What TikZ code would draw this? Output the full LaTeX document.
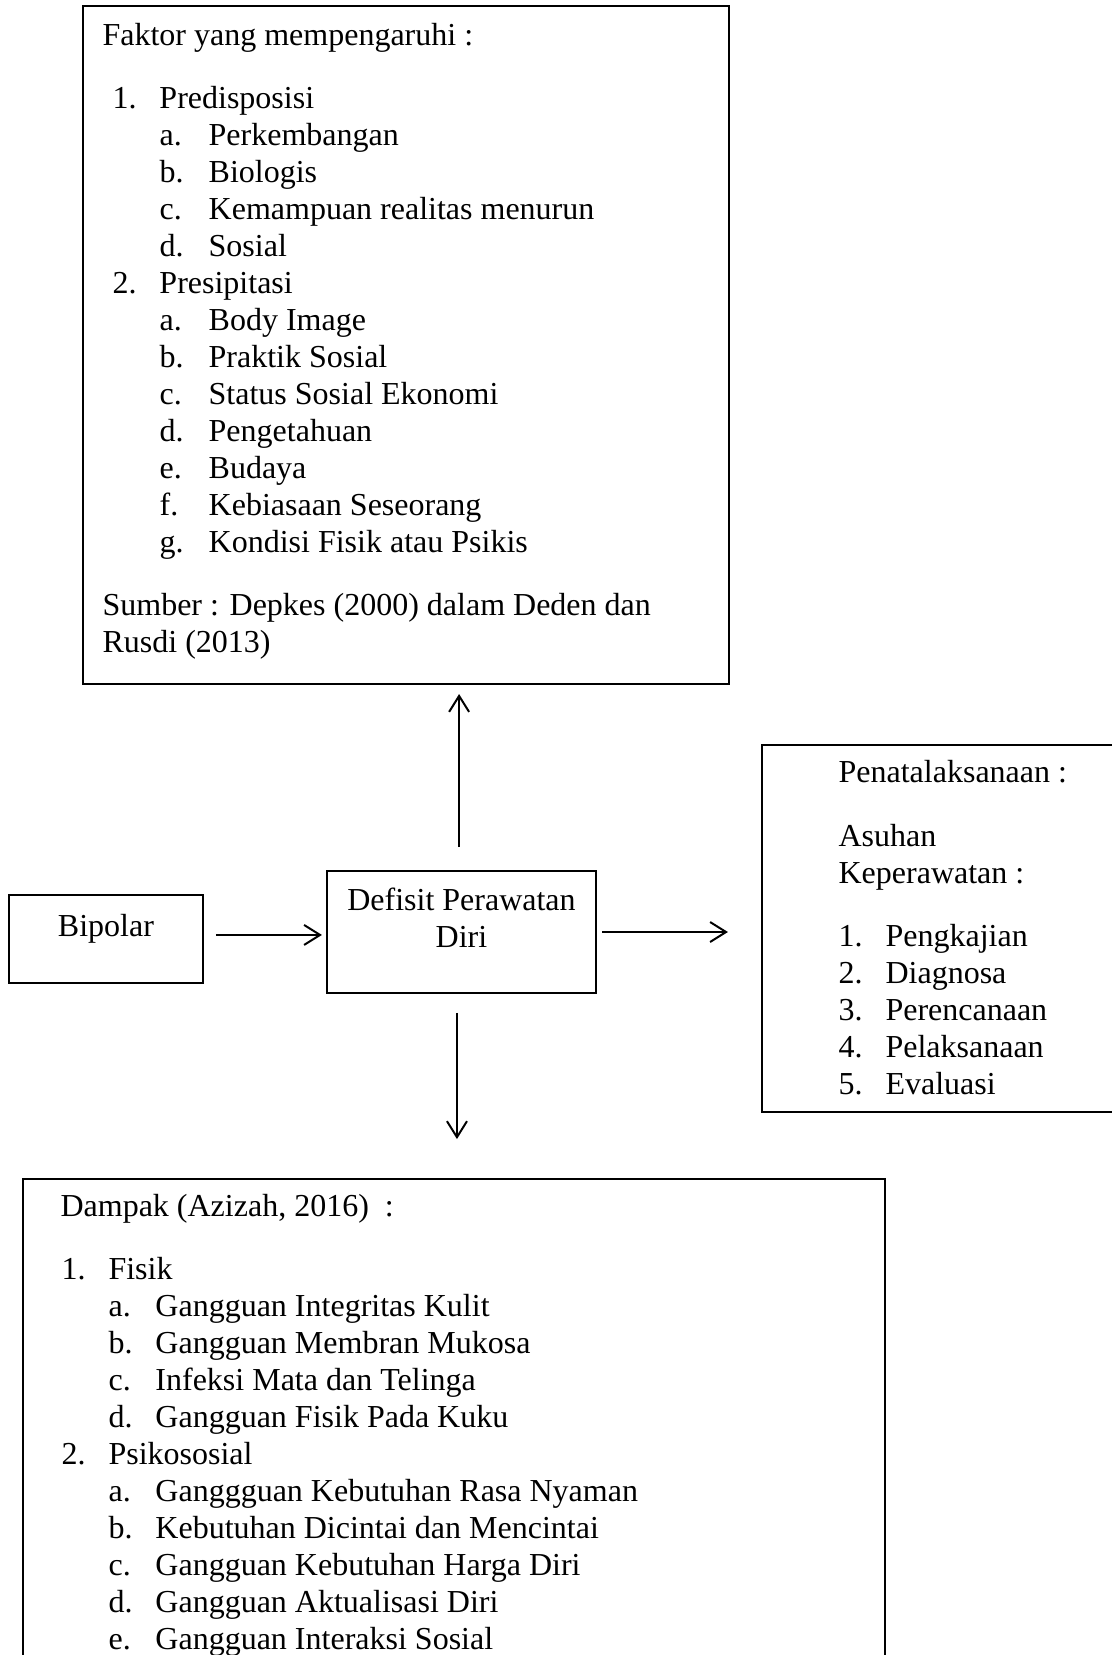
\documentclass[tikz,border=0pt]{standalone}
\usepackage{fontspec}
\setmainfont{Liberation Serif}
\usetikzlibrary{positioning, arrows.meta}

\newcommand{\fitem}[3][17.6pt]{\hspace*{#2}\makebox[#1][l]{#3}}

\begin{document}
\begin{tikzpicture}[x=0.375pt, y=-0.375pt,
    box/.style={draw, line width=0.75pt, inner sep=0pt},
    txt/.style={inner sep=0pt, font=\fontsize{12pt}{13.875pt}\selectfont},
    arr/.style={line width=0.75pt, -{Straight Barb[length=6pt, width=7.5pt]}}]
  \useasboundingbox (0,0) rectangle (1112,1655);

  % boxes
  \node[box, minimum width=100.9pt, minimum height=45.75pt] (defisit) at (461.5,932) {};
  \node[box, minimum width=72.75pt, minimum height=33pt, left=45.75pt of defisit, yshift=-2.6pt] (bipolar) {};
  \node[box, minimum width=131.6pt, minimum height=137.6pt, right=61.5pt of defisit, yshift=1.3pt] (pen) {};
  \node[box, minimum width=242.25pt, minimum height=254.25pt, above=69.4pt of defisit, xshift=-20.8pt] (faktor) {};
  \node[box, minimum width=323.25pt, minimum height=225pt, below=69pt of defisit, xshift=-2.8pt] (dampak) {};

  % texts (a \strut on the first line fixes where the top baseline sits)
  \node[txt, anchor=base, yshift=-16.1pt] (bipolartxt) at (bipolar.north) {Bipolar};
  \node[txt, align=center, anchor=north, yshift=-5.29pt] (defisittxt) at (defisit.north) {\strut Defisit Perawatan\\Diri};
  \node[txt, align=left, anchor=north west, xshift=7.5pt, yshift=-5.29pt] (faktortxt) at (faktor.north west) {%
    \strut Faktor yang mempengaruhi :\\[9.75pt]
    \fitem{3.75pt}{1.}Predisposisi\\
    \fitem[18.4pt]{21.4pt}{a.}Perkembangan\\
    \fitem[18.4pt]{21.4pt}{b.}Biologis\\
    \fitem[18.4pt]{21.4pt}{c.}Kemampuan realitas menurun\\
    \fitem[18.4pt]{21.4pt}{d.}Sosial\\
    \fitem{3.75pt}{2.}Presipitasi\\
    \fitem[18.4pt]{21.4pt}{a.}Body Image\\
    \fitem[18.4pt]{21.4pt}{b.}Praktik Sosial\\
    \fitem[18.4pt]{21.4pt}{c.}Status Sosial Ekonomi\\
    \fitem[18.4pt]{21.4pt}{d.}Pengetahuan\\
    \fitem[18.4pt]{21.4pt}{e.}Budaya\\
    \fitem[18.4pt]{21.4pt}{f.}Kebiasaan Seseorang\\
    \fitem[18.4pt]{21.4pt}{g.}Kondisi Fisik atau Psikis\\[9.75pt]
    Sumber : Depkes (2000) dalam Deden dan\\
    Rusdi (2013)};
  \node[txt, align=left, anchor=north west, xshift=28.9pt, yshift=-4.54pt] (pentxt) at (pen.north west) {%
    \strut Penatalaksanaan :\\[10pt]
    Asuhan\\
    Keperawatan :\\[10pt]
    \fitem{0pt}{1.}Pengkajian\\
    \fitem{0pt}{2.}Diagnosa\\
    \fitem{0pt}{3.}Perencanaan\\
    \fitem{0pt}{4.}Pelaksanaan\\
    \fitem{0pt}{5.}Evaluasi};
  \node[txt, align=left, anchor=north west, xshift=14.25pt, yshift=-4.54pt] (dampaktxt) at (dampak.north west) {%
    \strut Dampak (Azizah, 2016)~~:\\[9.75pt]
    \fitem{0.4pt}{1.}Fisik\\
    \fitem{18pt}{a.}Gangguan Integritas Kulit\\
    \fitem{18pt}{b.}Gangguan Membran Mukosa\\
    \fitem{18pt}{c.}Infeksi Mata dan Telinga\\
    \fitem{18pt}{d.}Gangguan Fisik Pada Kuku\\
    \fitem{0.4pt}{2.}Psikososial\\
    \fitem{18pt}{a.}Ganggguan Kebutuhan Rasa Nyaman\\
    \fitem{18pt}{b.}Kebutuhan Dicintai dan Mencintai\\
    \fitem{18pt}{c.}Gangguan Kebutuhan Harga Diri\\
    \fitem{18pt}{d.}Gangguan Aktualisasi Diri\\
    \fitem{18pt}{e.}Gangguan Interaksi Sosial};

  % connectors
  \coordinate (upstart) at ([xshift=-0.9pt]defisit.north);
  \coordinate (downstart) at ([xshift=-1.7pt]defisit.south);
  \coordinate (bipout) at ([yshift=1.5pt]bipolar.east);
  \draw[arr, shorten <=8.6pt, shorten >=3.4pt] (upstart) -- (upstart |- faktor.south);
  \draw[arr, shorten <=7.1pt, shorten >=14.6pt] (downstart) -- (downstart |- dampak.north);
  \draw[arr, shorten <=4.5pt, shorten >=1.5pt] (bipout) -- (bipout -| defisit.west);
  \draw[arr, shorten <=1.9pt, shorten >=12.4pt] (defisit.east) -- (defisit.east -| pen.west);
\end{tikzpicture}
\end{document}
